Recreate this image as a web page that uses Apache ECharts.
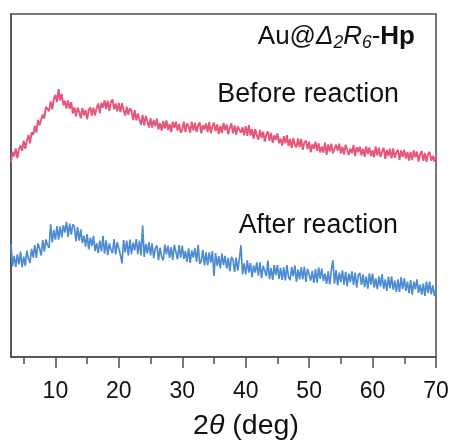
<!DOCTYPE html>
<html>
<head>
<meta charset="utf-8">
<script src="https://cdn.jsdelivr.net/npm/echarts@6/dist/echarts.min.js"></script>
<style>
  html, body { margin: 0; padding: 0; background: #ffffff; }
  #chart { width: 452px; height: 441px; }
</style>
</head>
<body>
<div id="chart"></div>
<script>
// XRD patterns of Au@Δ2R6-Hp, sampled every 0.25° in 2θ from 3° to 70°
const angleStart = 3;
const angleStep = 0.25;

const majorTicks = [10, 20, 30, 40, 50, 60, 70];
const minorTicks = [5, 15, 25, 35, 45, 55, 65];

// intensity (a.u., offset for stacking), one row per degree
const beforeReaction = [
  56.8, 59.8, 58.5, 60.8,
  58.0, 60.6, 61.6, 60.1,
  63.1, 60.7, 63.0, 64.7,
  62.3, 65.5, 64.7, 67.4,
  65.4, 69.1, 67.6, 67.2,
  70.7, 69.6, 72.9, 72.4,
  71.7, 74.5, 72.2, 75.2,
  76.4, 74.3, 78.1, 74.8,
  76.7, 73.4, 74.7, 72.4,
  74.8, 72.4, 74.3, 71.0,
  72.8, 70.2, 72.7, 71.4,
  69.6, 72.6, 70.5, 72.0,
  69.3, 72.0, 72.8, 70.4,
  72.7, 70.5, 72.5, 73.9,
  71.0, 74.1, 72.7, 74.8,
  72.3, 74.7, 71.8, 74.3,
  75.1, 72.2, 73.9, 71.6,
  74.1, 71.4, 74.0, 72.0,
  70.4, 73.0, 70.6, 72.5,
  71.7, 69.1, 72.0, 69.0,
  71.0, 69.2, 67.7, 70.6,
  67.5, 70.3, 68.7, 66.9,
  69.6, 66.9, 69.1, 67.3,
  69.5, 66.3, 68.2, 66.0,
  68.8, 66.6, 69.0, 66.2,
  67.9, 65.6, 68.6, 66.8,
  68.6, 66.0, 67.9, 65.4,
  66.2, 68.6, 65.6, 68.1,
  67.2, 65.4, 68.6, 66.0,
  68.3, 65.6, 67.5, 68.4,
  65.2, 67.6, 66.3, 68.1,
  65.6, 68.5, 65.3, 67.2,
  68.3, 65.8, 67.8, 65.0,
  67.4, 65.3, 68.2, 66.1,
  67.8, 64.9, 66.9, 68.1,
  65.2, 67.5, 64.8, 67.2,
  67.7, 65.4, 67.0, 64.6,
  67.3, 64.5, 67.6, 64.6,
  66.4, 63.6, 66.4, 64.6,
  63.4, 66.2, 63.9, 65.7,
  62.8, 64.8, 65.8, 63.0,
  65.3, 62.4, 64.6, 63.3,
  65.2, 62.3, 63.7, 61.6,
  64.4, 62.3, 64.7, 61.5,
  63.6, 61.0, 63.8, 61.9,
  61.1, 63.7, 61.2, 63.6,
  60.4, 62.5, 63.1, 60.6,
  62.8, 59.7, 62.0, 60.7,
  62.8, 60.1, 62.3, 59.6,
  61.4, 59.6, 62.5, 58.9,
  62.0, 59.9, 62.2, 59.4,
  59.0, 61.9, 60.2, 62.2,
  59.3, 61.3, 59.0, 61.9,
  61.4, 58.9, 60.8, 59.4,
  61.8, 58.6, 61.2, 59.8,
  61.3, 58.8, 60.7, 58.4,
  61.4, 59.2, 61.1, 58.6,
  60.3, 58.2, 61.4, 58.7,
  61.0, 58.3, 59.9, 61.0,
  57.8, 60.4, 58.6, 60.7,
  57.9, 60.8, 58.1, 59.7,
  60.4, 57.5, 60.2, 58.4,
  60.4, 57.9, 59.8, 57.3,
  59.8, 57.4, 60.2, 58.2,
  59.9, 57.0, 59.2, 60.0,
  57.2, 59.5, 56.9, 59.2,
  59.8, 57.2, 58.7, 56.9,
  58.8
];

const afterReaction = [
  33.0, 26.4, 29.5, 26.3,
  29.9, 27.0, 30.7, 26.1,
  29.3, 26.6, 31.0, 28.7,
  27.4, 31.5, 29.0, 32.6,
  28.9, 33.1, 31.7, 29.6,
  34.1, 30.7, 34.3, 32.6,
  31.8, 38.7, 33.4, 37.0,
  34.2, 38.2, 34.2, 38.1,
  34.9, 38.4, 36.3, 39.4,
  35.0, 38.9, 35.7, 38.7,
  37.9, 33.8, 37.9, 33.9,
  37.2, 33.2, 35.4, 32.2,
  35.8, 31.4, 34.8, 32.3,
  35.3, 30.9, 33.2, 30.3,
  33.9, 30.8, 35.3, 30.1,
  34.0, 29.7, 33.1, 31.2,
  30.3, 34.4, 29.9, 33.5,
  33.0, 29.7, 27.3, 34.1,
  30.5, 33.9, 29.6, 34.2,
  30.0, 33.4, 31.1, 34.4,
  30.0, 33.9, 29.6, 38.3,
  29.2, 33.0, 30.2, 33.4,
  29.6, 33.1, 28.8, 31.7,
  32.5, 28.2, 31.9, 29.2,
  28.2, 32.8, 29.9, 32.5,
  28.9, 32.0, 28.3, 32.7,
  32.2, 28.5, 32.6, 29.0,
  32.5, 28.6, 30.9, 27.7,
  31.7, 27.4, 31.1, 29.0,
  31.7, 27.7, 32.7, 27.2,
  28.0, 31.2, 26.7, 30.5,
  26.8, 30.5, 27.5, 30.9,
  23.6, 30.3, 26.6, 29.4,
  25.8, 30.2, 26.8, 29.5,
  25.8, 28.9, 25.0, 29.2,
  28.4, 24.8, 29.0, 25.2,
  28.5, 32.6, 24.1, 27.3,
  24.1, 28.2, 24.6, 27.4,
  23.3, 26.7, 24.6, 27.6,
  23.7, 27.6, 23.0, 26.6,
  26.9, 23.6, 28.1, 22.7,
  26.0, 22.5, 26.8, 23.9,
  26.8, 22.8, 26.0, 22.5,
  26.1, 22.3, 26.8, 23.3,
  22.4, 26.2, 23.5, 26.7,
  21.9, 25.5, 22.6, 26.2,
  22.7, 26.3, 21.9, 25.7,
  26.0, 22.3, 25.1, 21.6,
  25.6, 21.7, 26.1, 22.8,
  25.8, 22.1, 24.3, 21.3,
  25.0, 21.2, 25.3, 28.2,
  21.4, 25.3, 20.9, 24.6,
  21.8, 25.3, 21.1, 24.8,
  20.6, 24.3, 21.8, 25.0,
  21.0, 24.6, 20.2, 23.9,
  24.5, 21.0, 24.1, 20.4,
  23.5, 19.9, 24.4, 21.1,
  24.3, 20.2, 22.9, 19.8,
  23.5, 20.6, 24.2, 19.9,
  22.6, 19.3, 23.4, 20.0,
  23.5, 19.6, 22.3, 19.0,
  22.6, 19.0, 23.3, 19.8,
  22.9, 19.3, 22.0, 18.6,
  22.4, 18.2, 22.0, 19.7,
  22.6, 18.7, 21.1, 18.2,
  21.4, 17.8, 22.0, 18.7,
  22.0, 18.3, 20.9, 17.8,
  19.9
];

function pairs(values) {
  return values.map((v, i) => [angleStart + i * angleStep, v]);
}

const FONT = '"Liberation Sans", Arial, Helvetica, sans-serif';
const FRAME = '#4d4d4d';

const chart = echarts.init(document.getElementById('chart'), null, { renderer: 'canvas' });

chart.setOption({
  animation: false,
  backgroundColor: '#ffffff',
  grid: {
    left: 11, right: 16, top: 14, bottom: 84,
    show: true, borderColor: FRAME, borderWidth: 1.5, backgroundColor: 'transparent'
  },
  xAxis: [
    {
      type: 'value', min: 3, max: 70, position: 'bottom',
      axisLine: { show: true, onZero: false, lineStyle: { color: FRAME, width: 1.5 } },
      axisTick: { show: true, inside: false, length: 11, customValues: majorTicks,
                  lineStyle: { color: FRAME, width: 1.5 } },
      axisLabel: { show: true, customValues: majorTicks, margin: 23,
                   fontSize: 23, fontFamily: FONT, color: '#111' },
      splitLine: { show: false }
    },
    {
      type: 'value', min: 3, max: 70, position: 'bottom',
      axisLine: { show: false, onZero: false },
      axisTick: { show: true, inside: false, length: 7, customValues: minorTicks,
                  lineStyle: { color: FRAME, width: 1.5 } },
      axisLabel: { show: false },
      splitLine: { show: false }
    }
  ],
  yAxis: {
    type: 'value', min: 0, max: 100,
    axisLine: { show: true, lineStyle: { color: FRAME, width: 1.5 } },
    axisTick: { show: false },
    axisLabel: { show: false },
    splitLine: { show: false }
  },
  series: [
    {
      name: 'Before reaction', type: 'line', xAxisIndex: 0,
      data: pairs(beforeReaction), showSymbol: false, symbol: 'none',
      lineStyle: { color: '#e6557a', width: 1.9 }, silent: true
    },
    {
      name: 'After reaction', type: 'line', xAxisIndex: 0,
      data: pairs(afterReaction), showSymbol: false, symbol: 'none',
      lineStyle: { color: '#4d8bd3', width: 1.7 }, silent: true
    }
  ],
  graphic: [
    {
      type: 'text', right: 37, top: 24,
      style: {
        text: '{n|Au@}{i|Δ}{s|2}{i|R}{s|6}{n|-}{b|Hp}',
        rich: {
          n: { fontSize: 26, lineHeight: 30, fontFamily: FONT, fill: '#111' },
          i: { fontSize: 26, lineHeight: 30, fontStyle: 'italic', fontFamily: FONT, fill: '#111' },
          s: { fontSize: 17.5, lineHeight: 22, fontStyle: 'italic', verticalAlign: 'bottom', fontFamily: FONT, fill: '#111' },
          b: { fontSize: 26, lineHeight: 30, fontWeight: 'bold', fontFamily: FONT, fill: '#111' }
        }
      }
    },
    {
      type: 'text', x: 399, y: 95,
      style: { text: 'Before reaction', fontSize: 26.8, fontFamily: FONT, fill: '#111',
               textAlign: 'right', textVerticalAlign: 'middle' }
    },
    {
      type: 'text', x: 398, y: 226,
      style: { text: 'After reaction', fontSize: 26.8, fontFamily: FONT, fill: '#111',
               textAlign: 'right', textVerticalAlign: 'middle' }
    },
    {
      type: 'text', x: 246, y: 426,
      style: {
        text: '{n|2}{i|θ}{n| (deg)}',
        textAlign: 'center', textVerticalAlign: 'middle',
        rich: {
          n: { fontSize: 28.5, fontFamily: FONT, fill: '#111' },
          i: { fontSize: 28.5, fontStyle: 'italic', fontFamily: FONT, fill: '#111' }
        }
      }
    }
  ]
});
</script>
</body>
</html>
